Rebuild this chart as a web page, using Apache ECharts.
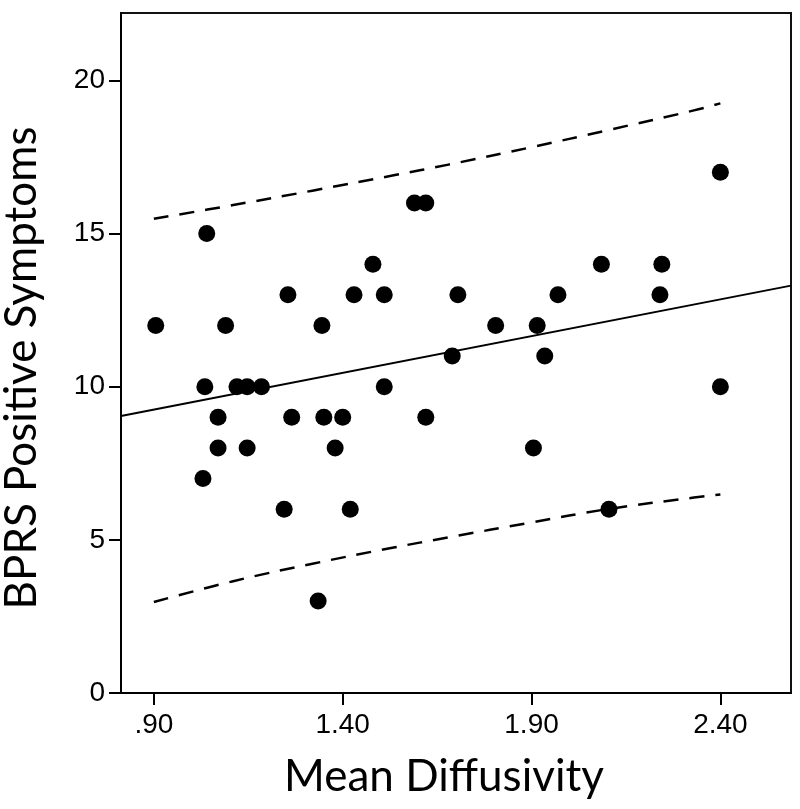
<!DOCTYPE html>
<html>
<head>
<meta charset="utf-8">
<script src="https://cdn.jsdelivr.net/npm/echarts@6/dist/echarts.min.js"></script>
<style>
html,body{margin:0;padding:0;background:#fff;}
#chart{width:800px;height:809px;}
</style>
</head>
<body>
<div id="chart"></div>
<script>
// Scatter points: Mean Diffusivity (x) vs BPRS Positive Symptoms (y)
const pointsX = [2.40, 1.59, 1.62, 1.04, 1.48, 2.085, 2.245,
  1.255, 1.43, 1.51, 1.705, 1.97, 2.24,
  0.905, 1.09, 1.345, 1.805, 1.915,
  1.69, 1.935,
  1.035, 1.12, 1.147, 1.185, 1.51, 2.40,
  1.07, 1.265, 1.35, 1.40, 1.62,
  1.07, 1.147, 1.38, 1.905,
  1.03,
  1.245, 1.42, 2.105,
  1.335];
const pointsY = [17, 16, 16, 15, 14, 14, 14,
  13, 13, 13, 13, 13, 13,
  12, 12, 12, 12, 12,
  11, 11,
  10, 10, 10, 10, 10, 10,
  9, 9, 9, 9, 9,
  8, 8, 8, 8,
  7,
  6, 6, 6,
  3];

// Fit line (read at plot edges)
const fitX = [0.813, 2.587];
const fitY = [9.04, 13.30];

// Prediction band (dashed)
const bandX = [0.90, 1.11, 1.32, 1.535, 1.68, 1.90, 2.10, 2.33, 2.40];
const bandUpper = [15.48, 15.93, 16.40, 16.90, 17.25, 17.82, 18.37, 19.02, 19.25];
const bandLower = [2.97, 3.65, 4.22, 4.75, 5.08, 5.57, 6.00, 6.38, 6.48];

// Axes
const xTickValues = [0.90, 1.40, 1.90, 2.40];
const xTickLabels = ['.90', '1.40', '1.90', '2.40'];
const yTickValues = [0, 5, 10, 15, 20];
const yTickLabels = ['0', '5', '10', '15', '20'];
const xRange = [0.813, 2.587];
const yRange = [0, 22.2];
const xTitle = 'Mean Diffusivity';
const yTitle = 'BPRS Positive Symptoms';

const zip = (a, b) => a.map((v, i) => [v, b[i]]);

const chart = echarts.init(document.getElementById('chart'), null, {renderer: 'canvas'});
const tickFont = {fontFamily: '"Liberation Sans", Arial, sans-serif', fontSize: 28, color: '#000'};
const titleFont = {fontFamily: 'Lato, "Open Sans", sans-serif', fontSize: 44, color: '#000'};

chart.setOption({
  animation: false,
  backgroundColor: '#fff',
  grid: {
    left: 121, top: 13, right: 9, bottom: 116,
    containLabel: false, outerBoundsMode: 'none',
    show: true, borderColor: '#111', borderWidth: 2, backgroundColor: 'transparent'
  },
  xAxis: {
    type: 'value', min: xRange[0], max: xRange[1],
    name: xTitle, nameLocation: 'middle', nameGap: 62,
    nameTextStyle: Object.assign({padding: [0, 24, 0, 0]}, titleFont),
    axisLine: {show: true, onZero: false, lineStyle: {color: '#000', width: 2}},
    axisTick: {show: true, length: 12, inside: false, customValues: xTickValues, lineStyle: {color: '#000', width: 2}},
    axisLabel: Object.assign({
      margin: 18, customValues: xTickValues,
      formatter: v => { const i = xTickValues.findIndex(t => Math.abs(t - v) < 1e-6); return i >= 0 ? xTickLabels[i] : ''; }
    }, tickFont),
    splitLine: {show: false}
  },
  yAxis: {
    type: 'value', min: yRange[0], max: yRange[1],
    name: yTitle, nameLocation: 'middle', nameGap: 77, nameRotate: 90,
    nameTextStyle: Object.assign({padding: [0, 30, 0, 0]}, titleFont),
    axisLine: {show: true, onZero: false, lineStyle: {color: '#000', width: 2}},
    axisTick: {show: true, length: 12, inside: false, customValues: yTickValues, lineStyle: {color: '#000', width: 2}},
    axisLabel: Object.assign({
      margin: 16, customValues: yTickValues,
      formatter: v => { const i = yTickValues.findIndex(t => Math.abs(t - v) < 1e-6); return i >= 0 ? yTickLabels[i] : ''; }
    }, tickFont),
    splitLine: {show: false}
  },
  series: [
    {
      type: 'line', data: zip(fitX, fitY), symbol: 'none', silent: true,
      lineStyle: {color: '#000', width: 2}
    },
    {
      type: 'line', data: zip(bandX, bandUpper), symbol: 'none', smooth: 0.4, silent: true,
      lineStyle: {color: '#000', width: 2.5, type: [15, 11]}
    },
    {
      type: 'line', data: zip(bandX, bandLower), symbol: 'none', smooth: 0.4, silent: true,
      lineStyle: {color: '#000', width: 2.5, type: [15, 11]}
    },
    {
      type: 'scatter', data: zip(pointsX, pointsY), symbol: 'circle', symbolSize: 17,
      itemStyle: {color: '#000', opacity: 1}
    }
  ]
});
</script>
</body>
</html>
